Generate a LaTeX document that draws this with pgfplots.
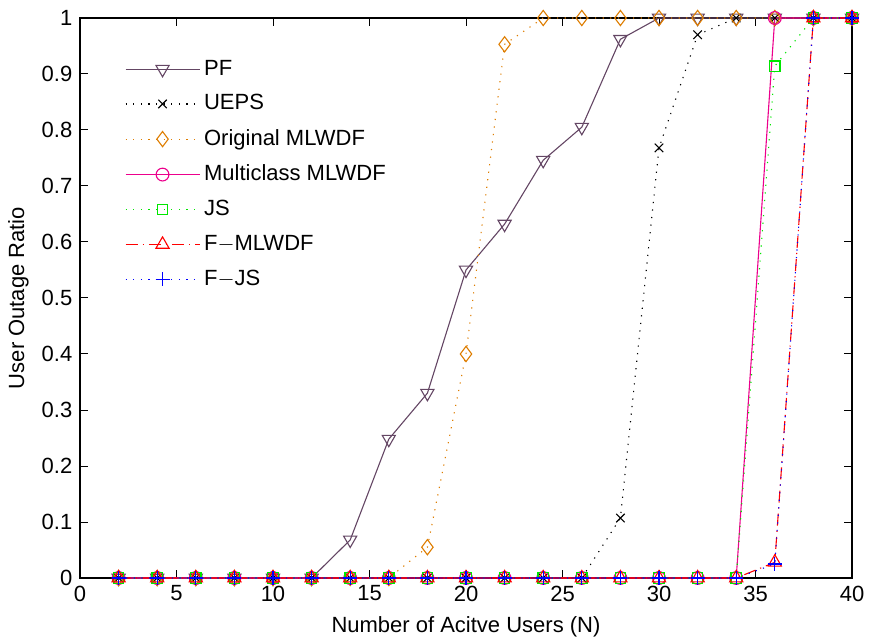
\documentclass[border=0pt]{standalone}
\usepackage{fontspec}
\setmainfont{Liberation Sans}
\usepackage{pgfplots}
\pgfplotsset{compat=1.18}
\definecolor{pfc}{RGB}{100,70,100}
\definecolor{orc}{RGB}{222,125,0}
\definecolor{grc}{RGB}{0,230,0}
\begin{document}
\fontsize{11pt}{13pt}\selectfont
\begin{tikzpicture}
\begin{axis}[
  name=ax,
  scale only axis,
  width=386pt, height=280pt,
  xmin=0, xmax=40, ymin=0, ymax=1,
  xtick={0,5,...,40},
  ytick={0,0.1,...,1},
  yticklabels={0,0.1,0.2,0.3,0.4,0.5,0.6,0.7,0.8,0.9,1},
  tick align=inside,
  major tick length=4pt,
  axis line style={line width=0.7pt},
  every tick/.style={line width=0.5pt, black},
  /pgf/number format/assume math mode=true,
  ticklabel style={font=\fontsize{11pt}{13pt}\selectfont},
  label style={font=\fontsize{11pt}{13pt}\selectfont},
  xlabel={Number of Acitve Users (N)},
  ylabel={User Outage Ratio},
  xlabel style={yshift=0pt},
  ylabel style={yshift=-1pt},
  legend style={draw=none, fill=none, at={(0.05,0.94)}, anchor=north west,
    font=\fontsize{11pt}{13pt}\selectfont, row sep=4.1pt},
  legend cell align=left,
  every axis legend/.append style={/tikz/every even column/.append style={column sep=3pt}},
  legend image code/.code={
    \draw[mark repeat=2,mark phase=2,#1] plot coordinates {(0cm,0cm) (0.65cm,0cm) (1.3cm,0cm)};
  },
]
\addplot[color=pfc, line width=0.55pt, mark=triangle, mark size=3.8pt, mark options={solid, rotate=180}] coordinates {
(2,0)(4,0)(6,0)(8,0)(10,0)(12,0)(14,0.068)(16,0.248)(18,0.33)(20,0.55)(22,0.632)(24,0.746)(26,0.805)(28,0.962)(30,1)(32,1)(34,1)(36,1)(38,1)(40,1)};
\addlegendentry{PF}
\addplot[color=black, line width=0.55pt, dash pattern=on 0.6pt off 3.2pt, mark=x, mark size=3pt, mark options={solid}] coordinates {
(2,0)(4,0)(6,0)(8,0)(10,0)(12,0)(14,0)(16,0)(18,0)(20,0)(22,0)(24,0)(26,0)(28,0.107)(30,0.768)(32,0.97)(34,1)(36,1)(38,1)(40,1)};
\addlegendentry{UEPS}
\addplot[color=orc, line width=0.55pt, dash pattern=on 0.6pt off 3.2pt, mark=diamond, mark size=3.8pt, mark options={solid}] coordinates {
(2,0)(4,0)(6,0)(8,0)(10,0)(12,0)(14,0)(16,0)(18,0.055)(20,0.40)(22,0.953)(24,1)(26,1)(28,1)(30,1)(32,1)(34,1)(36,1)(38,1)(40,1)};
\addlegendentry{Original MLWDF}
\addplot[color=magenta, line width=0.55pt, mark=o, mark size=3.2pt, mark options={solid}] coordinates {
(2,0)(4,0)(6,0)(8,0)(10,0)(12,0)(14,0)(16,0)(18,0)(20,0)(22,0)(24,0)(26,0)(28,0)(30,0)(32,0)(34,0)(36,1)(38,1)(40,1)};
\addlegendentry{Multiclass MLWDF}
\addplot[color=grc, line width=0.55pt, dash pattern=on 0.6pt off 3.2pt, mark=square, mark size=2.6pt, mark options={solid}] coordinates {
(2,0)(4,0)(6,0)(8,0)(10,0)(12,0)(14,0)(16,0)(18,0)(20,0)(22,0)(24,0)(26,0)(28,0)(30,0)(32,0)(34,0)(36,0.914)(38,1)(40,1)};
\addlegendentry{JS}
\addplot[color=red, line width=0.55pt, dash pattern=on 6pt off 2.5pt on 0.6pt off 2.5pt, mark=triangle, mark size=3.8pt, mark options={solid}] coordinates {
(2,0)(4,0)(6,0)(8,0)(10,0)(12,0)(14,0)(16,0)(18,0)(20,0)(22,0)(24,0)(26,0)(28,0)(30,0)(32,0)(34,0)(36,0.028)(38,1)(40,1)};
\addlegendentry{F$-$MLWDF}
\addplot[color=blue, line width=0.55pt, dash pattern=on 0.6pt off 3.2pt, mark=+, mark size=3.5pt, mark options={solid}] coordinates {
(2,0)(4,0)(6,0)(8,0)(10,0)(12,0)(14,0)(16,0)(18,0)(20,0)(22,0)(24,0)(26,0)(28,0)(30,0)(32,0)(34,0)(36,0.025)(38,1)(40,1)};
\addlegendentry{F$-$JS}
\end{axis}
\pgfresetboundingbox
\path ([xshift=-40pt,yshift=-32pt]ax.south west) rectangle ([xshift=9.5pt,yshift=9pt]ax.north east);
\end{tikzpicture}
\end{document}
